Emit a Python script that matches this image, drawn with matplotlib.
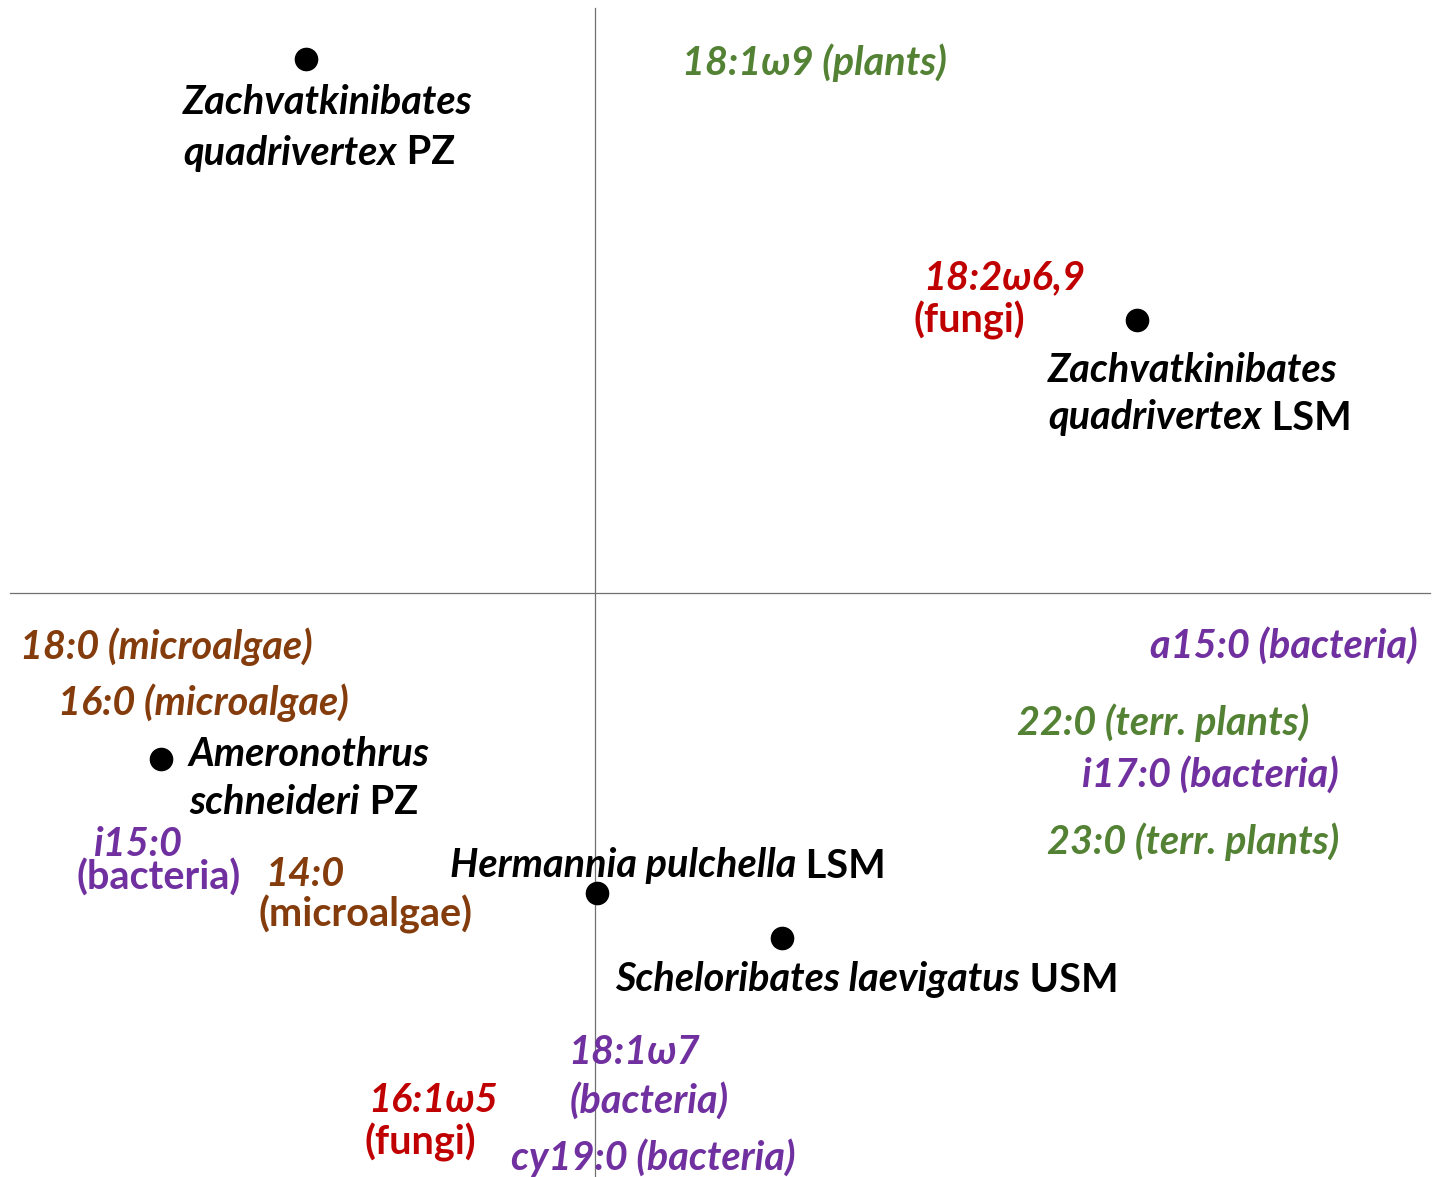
import matplotlib
matplotlib.use('Agg')
import matplotlib.pyplot as plt

plt.rcParams['font.family'] = ['Lato', 'DejaVu Sans']

BLACK = '#000000'
GREEN = '#548235'
RED = '#C00000'
BROWN = '#843C0C'
PURPLE = '#7030A0'

# ordination scores of the mite samples (dots)
species_x = [-2.89, 5.42, -4.34, 0.02, 1.87]
species_y = [5.34, 2.73, -1.66, -3.00, -3.45]

# species labels: (italic part, upright part, x, y) one entry per line
species_lines = [
    ('Zachvatkinibates', '', -4.12, 4.90),
    ('quadrivertex', ' PZ', -4.12, 4.40),
    ('Zachvatkinibates', '', 4.53, 2.23),
    ('quadrivertex', ' LSM', 4.53, 1.75),
    ('Ameronothrus', '', -4.06, -1.62),
    ('schneideri', ' PZ', -4.06, -2.10),
    ('Hermannia pulchella', ' LSM', -1.45, -2.73),
    ('Scheloribates laevigatus', ' USM', 0.20, -3.87),
]

# fatty acid markers
fa_text = ['18:1ω9 (plants)', '18:2ω6,9', '(fungi)',
           '18:0 (microalgae)', '16:0 (microalgae)',
           'i15:0', '(bacteria)', '14:0', '(microalgae)',
           'a15:0 (bacteria)', '22:0 (terr. plants)', 'i17:0 (bacteria)',
           '23:0 (terr. plants)', '18:1ω7', '(bacteria)',
           '16:1ω5', '(fungi)', 'cy19:0 (bacteria)']
fa_x = [0.87, 3.28, 3.18, -5.75, -5.37, -5.02, -5.19, -3.30, -3.37,
        5.55, 4.22, 4.87, 4.52, -0.27, -0.25, -2.27, -2.31, -0.84]
fa_y = [5.30, 3.15, 2.73, -0.54, -1.10, -2.51, -2.85, -2.82, -3.21,
        -0.53, -1.30, -1.82, -2.49, -4.59, -5.08, -5.08, -5.49, -5.65]
fa_color = [GREEN, RED, RED, BROWN, BROWN, PURPLE, PURPLE, BROWN, BROWN,
            PURPLE, GREEN, PURPLE, GREEN, PURPLE, PURPLE, RED, RED, PURPLE]
fa_italic = [True, True, False, True, True, True, False, True, False,
             True, True, True, True, True, True, True, False, True]

FS = 28.5

fig = plt.figure(figsize=(14.39, 11.77), dpi=100)
ax = fig.add_axes([0, 0, 1, 1])
ax.set_xlim(-5.95, 8.44)
ax.set_ylim(-5.84, 5.93)
ax.axis('off')

# axes through origin
ax.plot([-5.85, 8.35], [0, 0], color='#707070', lw=0.9, zorder=1)
ax.plot([0, 0], [5.85, -5.84], color='#707070', lw=0.9, zorder=1)

ax.plot(species_x, species_y, 'o', color=BLACK, markersize=16, zorder=3)

for ital, rest, x, y in species_lines:
    t = ax.text(x, y, ital, fontsize=FS, fontweight='bold', fontstyle='italic',
                color=BLACK, ha='left', va='center', zorder=4)
    if rest:
        ax.annotate(rest, xy=(1, 0), xycoords=t, fontsize=FS, fontweight='bold',
                    color=BLACK, ha='left', va='bottom', zorder=4)

for txt, x, y, c, it in zip(fa_text, fa_x, fa_y, fa_color, fa_italic):
    ax.text(x, y, txt, fontsize=FS, fontweight='bold',
            fontstyle='italic' if it else 'normal',
            color=c, ha='left', va='center', zorder=4)

plt.savefig('out.png', dpi=100)
